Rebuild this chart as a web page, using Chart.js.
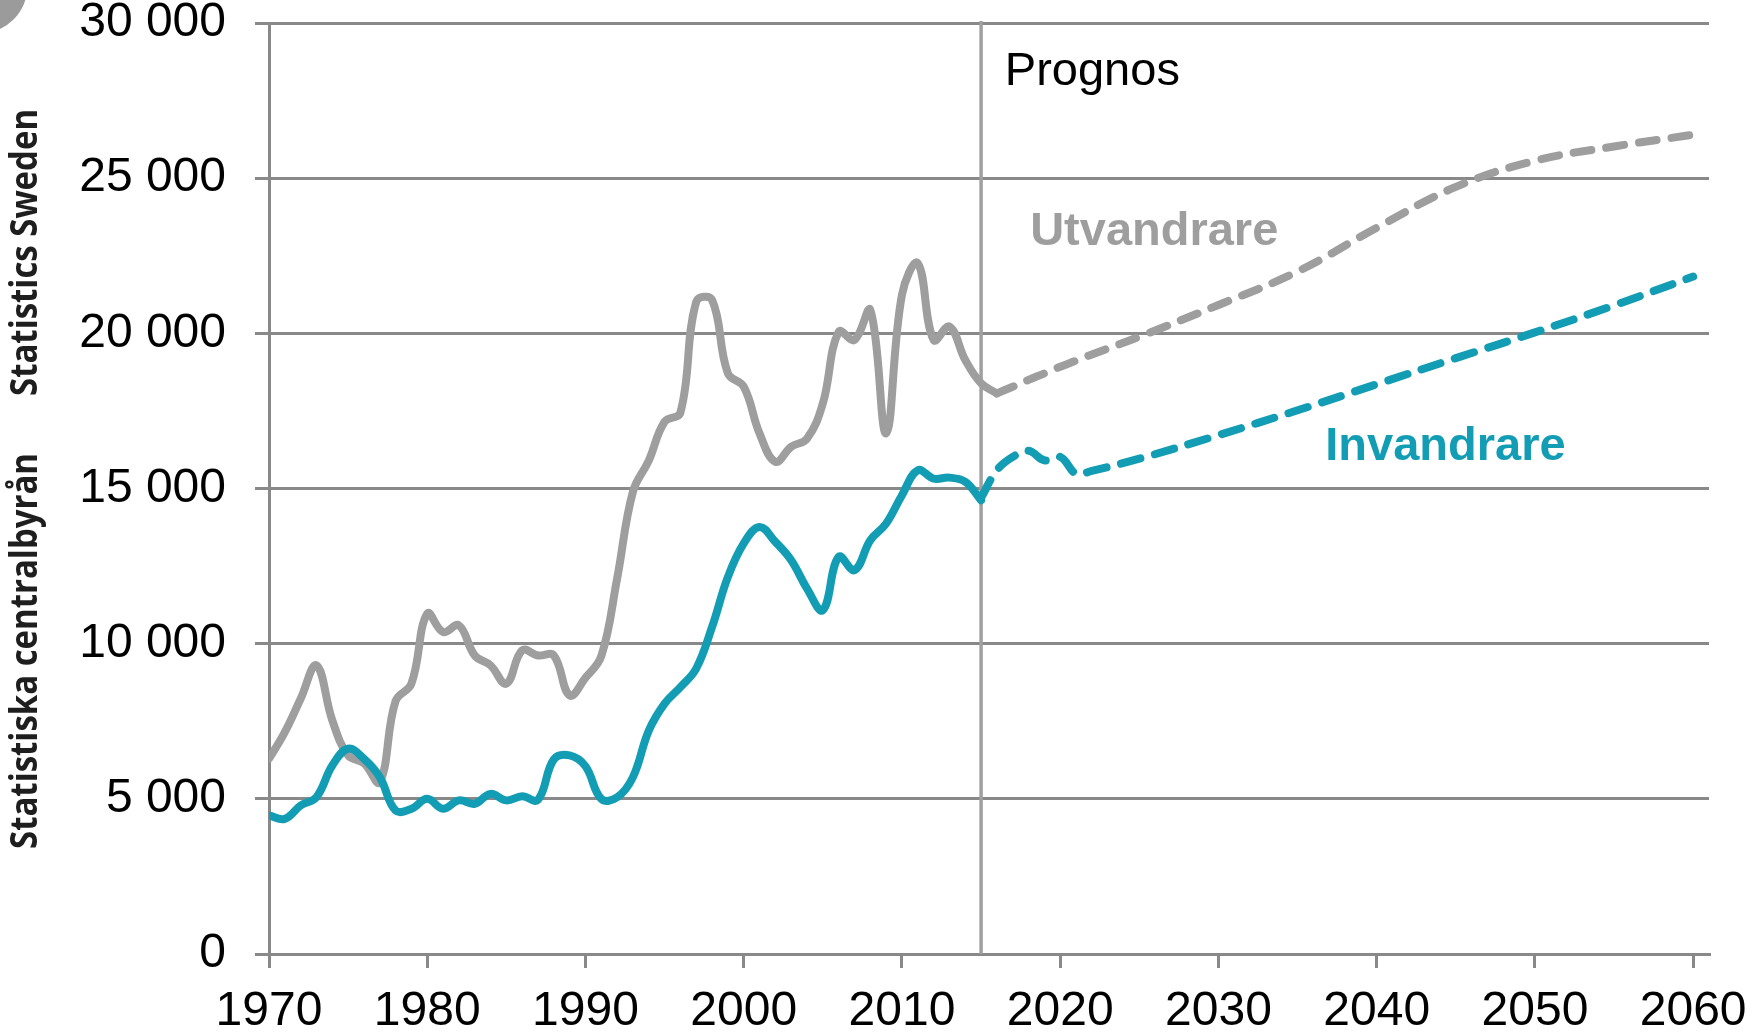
<!DOCTYPE html>
<html>
<head>
<meta charset="utf-8">
<script src="https://cdn.jsdelivr.net/npm/chart.js@4"></script>
<style>
  html, body { margin: 0; padding: 0; background: #fff; }
  #wrap { width: 1763px; height: 1035px; position: relative; }
</style>
</head>
<body>
<div id="wrap"><canvas id="chart"></canvas></div>
<script>
// historical years (gray runs one year longer than teal)
const histYears = [
  1970, 1971, 1972, 1973, 1974, 1975, 1976, 1977, 1978, 1979,
  1980, 1981, 1982, 1983, 1984, 1985, 1986, 1987, 1988, 1989,
  1990, 1991, 1992, 1993, 1994, 1995, 1996, 1997, 1998, 1999,
  2000, 2001, 2002, 2003, 2004, 2005, 2006, 2007, 2008, 2009,
  2010, 2011, 2012, 2013, 2014, 2015, 2016
];
const utvHist = [
  6290, 7150, 8225, 9300, 7530, 6400, 6150, 5540, 8150, 8710,
  10970, 10375, 10590, 9620, 9300, 8710, 9785, 9620, 9620, 8330,
  8900, 9600, 12100, 14900, 15900, 17150, 17450, 21020, 21075, 18710,
  18280, 16775, 15860, 16345, 16610, 17740, 20050, 19785, 20750, 16775,
  21240, 22260, 19785, 20215, 19140, 18390, 18065
];
const invHist = [
  4464, 4356, 4786, 5055, 6076, 6614, 6290, 5700, 4625, 4680,
  5000, 4680, 4950, 4840, 5160, 4950, 5080, 4970, 6270, 6400,
  6050, 5000, 5050, 5700, 7200, 8070, 8600, 9200, 10540, 12150,
  13230, 13760, 13280, 12690, 11775, 11080, 12800, 12370, 13330, 13870,
  14785, 15590, 15320, 15350, 15215, 14620, null
];

// forecast (Prognos)
const progYears = [
  2015, 2016, 2017, 2018, 2019, 2020, 2021, 2022, 2025,
  2030, 2035, 2040, 2045, 2050, 2055, 2060
];
const utvProg = [
  null, 18065, 18280, 18500, 18710, 18925, 19120, 19320, 19890,
  20915, 21990, 23400, 24720, 25560, 26020, 26400
];
const invProg = [
  14700, 15590, 16020, 16215, 15910, 16020, 15480, 15570, 15960,
  16720, 17520, 18360, 19200, 20030, 20900, 21830
];

const yTicks = [0, 5000, 10000, 15000, 20000, 25000, 30000];
const xTicks = [1970, 1980, 1990, 2000, 2010, 2020, 2030, 2040, 2050, 2060];
const prognosYear = 2015;

const GRAY = '#9e9e9e';
const TEAL = '#139db4';
const GRID = '#898989';
const TICK_FONT = { family: '"Liberation Sans", Arial, sans-serif', size: 48, lineHeight: 1 };

const pts = (xs, ys) => xs.map((x, i) => ({ x, y: ys[i] }));
const fmt = v => String(v).replace(/\B(?=(\d{3})+(?!\d))/g, ' ');

const lineBase = {
  borderWidth: 8,
  pointRadius: 0,
  tension: 0.4,
  borderCapStyle: 'round',
  borderJoinStyle: 'round',
  fill: false,
  spanGaps: false
};

// extras: prognos divider, in-chart labels, SCB side text, corner mark
const extras = {
  id: 'extras',
  beforeDatasetsDraw(chart) {
    const { ctx, chartArea, scales: { x } } = chart;
    const px = x.getPixelForValue(prognosYear);
    ctx.save();
    ctx.strokeStyle = '#a0a0a0';
    ctx.lineWidth = 3.5;
    ctx.beginPath();
    ctx.moveTo(px, chartArea.top - 2);
    ctx.lineTo(px, chartArea.bottom);
    ctx.stroke();
    ctx.restore();
  },
  afterDraw(chart) {
    const { ctx, scales: { x, y } } = chart;
    ctx.save();
    ctx.textBaseline = 'alphabetic';
    ctx.textAlign = 'left';

    ctx.fillStyle = '#000';
    ctx.font = '47px "Liberation Sans", Arial, sans-serif';
    ctx.fillText('Prognos', x.getPixelForValue(2016.5), y.getPixelForValue(28000));

    ctx.font = 'bold 47px "Liberation Sans", Arial, sans-serif';
    ctx.fillStyle = GRAY;
    ctx.fillText('Utvandrare', x.getPixelForValue(2018.1), y.getPixelForValue(22840));
    ctx.fillStyle = TEAL;
    ctx.fillText('Invandrare', x.getPixelForValue(2036.75), y.getPixelForValue(15915));

    // side text, rotated, squeezed along its run to fit
    ctx.font = 'bold 37px "Open Sans", sans-serif';
    const sq = 396 / ctx.measureText('Statistiska centralbyrån').width;
    ctx.fillStyle = '#1e1e1e';
    ctx.translate(37, 0);
    ctx.rotate(-Math.PI / 2);
    ctx.scale(sq, 1);
    ctx.fillText('Statistiska centralbyrån', -849 / sq, 0);
    ctx.fillText('Statistics Sweden', -396 / sq, 0);
    ctx.restore();

    // corner mark
    ctx.save();
    ctx.fillStyle = '#9b9b9b';
    ctx.beginPath();
    ctx.arc(-20, -14, 47.4, 0, Math.PI * 2);
    ctx.fill();
    ctx.restore();
  }
};

new Chart(document.getElementById('chart'), {
  type: 'line',
  data: {
    datasets: [
      { ...lineBase, label: 'Invandrare', data: pts(histYears, invHist), borderColor: TEAL },
      { ...lineBase, label: 'Utvandrare', data: pts(histYears, utvHist), borderColor: GRAY },
      { ...lineBase, label: 'Invandrare prognos', data: pts(progYears, invProg), borderColor: TEAL, borderDash: [20, 15] },
      { ...lineBase, label: 'Utvandrare prognos', data: pts(progYears, utvProg), borderColor: GRAY, borderDash: [18, 15] }
    ]
  },
  options: {
    responsive: true,
    maintainAspectRatio: false,
    animation: false,
    layout: { padding: { top: 23, right: 54, bottom: 0, left: 0 } },
    plugins: { legend: { display: false }, tooltip: { enabled: false } },
    scales: {
      x: {
        type: 'linear',
        min: 1970,
        max: 2061,
        afterFit: s => { s.height = 81; s.paddingLeft = 0; s.paddingRight = 0; },
        afterBuildTicks: s => { s.ticks = xTicks.map(v => ({ value: v })); },
        ticks: {
          font: TICK_FONT,
          color: '#000',
          padding: 20,
          maxRotation: 0,
          autoSkip: false,
          callback: v => String(v)
        },
        grid: { drawOnChartArea: false, drawTicks: true, tickLength: 14, color: GRID, lineWidth: 3 },
        border: { display: true, color: GRID, width: 3 }
      },
      y: {
        min: 0,
        max: 30000,
        afterFit: s => { s.width = 269; s.paddingTop = 0; s.paddingBottom = 0; },
        afterBuildTicks: s => { s.ticks = yTicks.map(v => ({ value: v })); },
        ticks: {
          font: TICK_FONT,
          color: '#000',
          padding: 29,
          callback: v => fmt(v)
        },
        grid: { color: GRID, lineWidth: 3, tickLength: 14 },
        border: { display: true, color: GRID, width: 3 }
      }
    }
  },
  plugins: [extras]
});
</script>
</body>
</html>
